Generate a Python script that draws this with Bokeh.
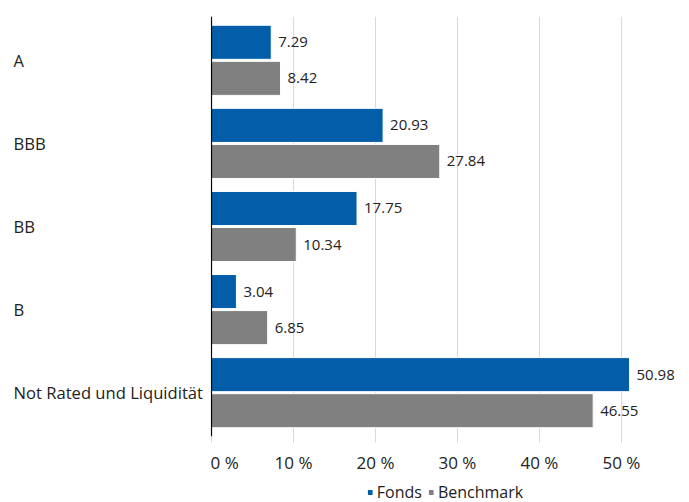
from bokeh.plotting import figure
from bokeh.models import ColumnDataSource, FactorRange, Range1d, Legend, LegendItem, Span, FixedTicker
from bokeh.layouts import row, column
from bokeh.transform import dodge
from bokeh.core.properties import value
from bokeh.embed import file_html
from bokeh.resources import INLINE

categories = ["A", "BBB", "BB", "B", "Not Rated und Liquidität"]
fonds = [7.29, 20.93, 17.75, 3.04, 50.98]
benchmark = [8.42, 27.84, 10.34, 6.85, 46.55]
series_names = ["Fonds", "Benchmark"]
x_ticks = [0, 10, 20, 30, 40, 50]
x_tick_labels = ["0 %", "10 %", "20 %", "30 %", "40 %", "50 %"]

BLUE = "#035DA8"
GRAY = "#808080"
FONT = "Open Sans"
TXT = "#222222"

src = ColumnDataSource(dict(
    cat=categories,
    fonds=fonds,
    benchmark=benchmark,
    fonds_lbl=["%.2f" % v for v in fonds],
    bench_lbl=["%.2f" % v for v in benchmark],
))

yr = FactorRange(factors=list(reversed(categories)), range_padding=0.011)
TOP = 16
FH = 420

# left strip with category names (left aligned)
pl = figure(frame_width=210, frame_height=FH, x_range=Range1d(0, 210), y_range=yr,
            output_backend="svg", toolbar_location=None,
            min_border_left=0, min_border_right=0, min_border_top=TOP, min_border_bottom=0)
pl.axis.visible = False
pl.grid.visible = False
pl.outline_line_color = None
pl.text(x=13, y="cat", text="cat", source=src, text_align="left", text_baseline="middle",
        text_font=value(FONT), text_font_size=value("16.6px"), text_color=TXT)

p = figure(frame_width=470, frame_height=FH,
           x_range=Range1d(-0.122, 57.2), y_range=yr,
           output_backend="svg", toolbar_location=None,
           min_border_left=0, min_border_right=0, min_border_top=TOP, min_border_bottom=0)
p.outline_line_color = None
p.background_fill_color = "white"

off = 0.217
h = 0.41
p.hbar(y=dodge("cat", off, range=yr), right="fonds", left=0, height=h, source=src,
       fill_color=BLUE, line_color="white", line_width=1)
p.hbar(y=dodge("cat", -off, range=yr), right="benchmark", left=0, height=h, source=src,
       fill_color=GRAY, line_color="white", line_width=1)

p.text(x="fonds", y=dodge("cat", off, range=yr), text="fonds_lbl", source=src,
       x_offset=7, text_baseline="middle", text_align="left",
       text_font=value(FONT), text_font_size=value("15px"), text_color=TXT)
p.text(x="benchmark", y=dodge("cat", -off, range=yr), text="bench_lbl", source=src,
       x_offset=7, text_baseline="middle", text_align="left",
       text_font=value(FONT), text_font_size=value("15px"), text_color=TXT)

p.add_layout(Span(location=0, dimension="height", line_color="black", line_width=1.2))

p.xgrid.ticker = FixedTicker(ticks=x_ticks)
p.xgrid.grid_line_color = "#d9d9d9"
p.ygrid.grid_line_color = None
p.yaxis.visible = False

xa = p.xaxis[0]
xa.ticker = FixedTicker(ticks=x_ticks)
xa.major_label_overrides = {t: l for t, l in zip(x_ticks, x_tick_labels)}
xa.axis_line_color = None
xa.major_tick_line_color = "#d9d9d9"
xa.major_tick_out = 6
xa.major_tick_in = 0
xa.minor_tick_line_color = None
xa.minor_tick_out = 0
xa.major_label_standoff = 8
xa.major_label_text_font = FONT
xa.major_label_text_font_size = "17px"
xa.major_label_text_color = TXT

# legend strip below the chart, centred under the bar area
pleg = figure(frame_width=470, frame_height=20, x_range=Range1d(0, 1), y_range=Range1d(0, 1),
              output_backend="svg", toolbar_location=None,
              min_border_left=210, min_border_right=0, min_border_top=6, min_border_bottom=0)
pleg.axis.visible = False
pleg.grid.visible = False
pleg.outline_line_color = None
# legend swatches only (kept outside the visible range of this strip)
swatch = ColumnDataSource(dict(y=[-5], right=[-5]))
g1 = pleg.hbar(y="y", right="right", left=-6, height=0.5, source=swatch, fill_color=BLUE, line_color=None)
g2 = pleg.hbar(y="y", right="right", left=-6, height=0.5, source=swatch, fill_color=GRAY, line_color=None)
legend = Legend(items=[LegendItem(label=series_names[0], renderers=[g1]),
                       LegendItem(label=series_names[1], renderers=[g2])],
                orientation="horizontal", location="center",
                glyph_width=6, glyph_height=6, label_standoff=4, spacing=6, label_height=14,
                padding=0, margin=0, border_line_color=None, background_fill_alpha=0,
                label_text_font=FONT, label_text_font_size="16px", label_text_color=TXT)
pleg.add_layout(legend, "center")

layout = column(row(pl, p), pleg)
open("out.html", "w").write(file_html(layout, INLINE))
